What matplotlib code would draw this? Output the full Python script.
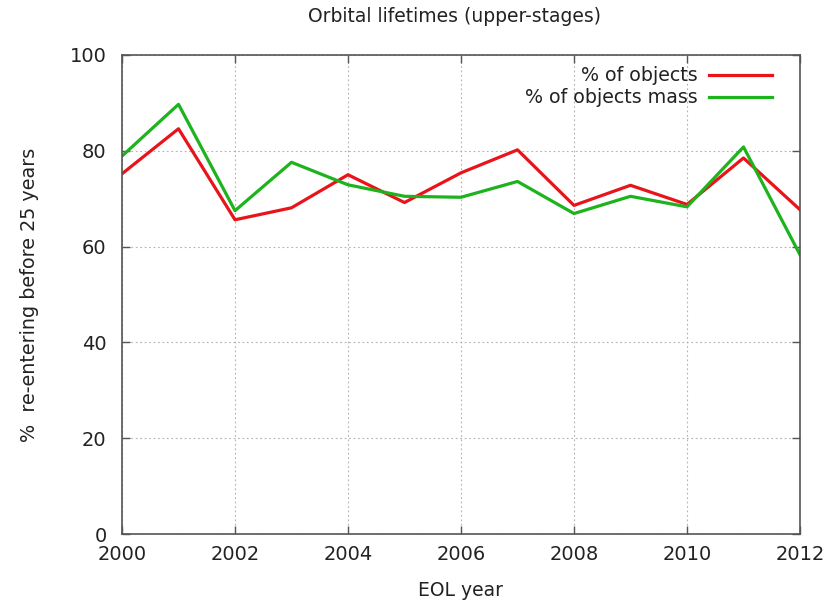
import matplotlib
matplotlib.use("Agg")
import matplotlib.pyplot as plt

# EOL years and share re-entering before 25 years
years = [2000, 2001, 2002, 2003, 2004, 2005, 2006, 2007, 2008, 2009, 2010, 2011, 2012]
pct_objects = [75.2, 84.6, 65.6, 68.1, 75.0, 69.2, 75.4, 80.2, 68.6, 72.8, 68.8, 78.5, 67.7]
pct_mass = [78.9, 89.7, 67.5, 77.6, 72.9, 70.5, 70.3, 73.6, 66.9, 70.5, 68.3, 80.8, 58.3]
xticks = [2000, 2002, 2004, 2006, 2008, 2010, 2012]
yticks = [0, 20, 40, 60, 80, 100]

fig = plt.figure(figsize=(8.37, 6.07), dpi=100)
ax = fig.add_axes([122 / 837, 1 - 534 / 607, 678 / 837, 479 / 607])

ax.plot(years, pct_objects, color="#e8141a", lw=2.3, label="% of objects")
ax.plot(years, pct_mass, color="#1db31d", lw=2.3, label="% of objects mass")

ax.set_xlim(2000, 2012)
ax.set_ylim(0, 100)
ax.set_xticks(xticks)
ax.set_yticks(yticks)
ax.grid(True, color="#b0b0b0", ls=(0, (1.5, 2.5)), lw=0.8)
ax.tick_params(direction="in", length=6, width=1, color="#555555",
               labelsize=14, top=True, right=True, labelcolor="#222222")
ax.tick_params(axis="y", pad=11)
ax.tick_params(axis="x", pad=8)
for s in ax.spines.values():
    s.set_color("#555555")
    s.set_linewidth(1.2)

# title sits well above the frame
fig.text(455 / 837, 1 - 16 / 607, "Orbital lifetimes (upper-stages)", fontsize=13.5,
         color="#222222", ha="center", va="center")
ax.set_xlabel("EOL year", fontsize=13.5, labelpad=12, color="#222222")
ax.set_ylabel("%  re-entering before 25 years", fontsize=13.8, labelpad=22, color="#222222")

leg = ax.legend(loc="upper right", frameon=False, markerfirst=False, fontsize=13.7,
                handlelength=3.3, borderaxespad=0.2, labelspacing=0.15,
                handletextpad=0.6, bbox_to_anchor=(0.975, 1.0))
for t in leg.get_texts():
    t.set_ha("right")
    t.set_color("#222222")

fig.savefig("out.png", dpi=100)
